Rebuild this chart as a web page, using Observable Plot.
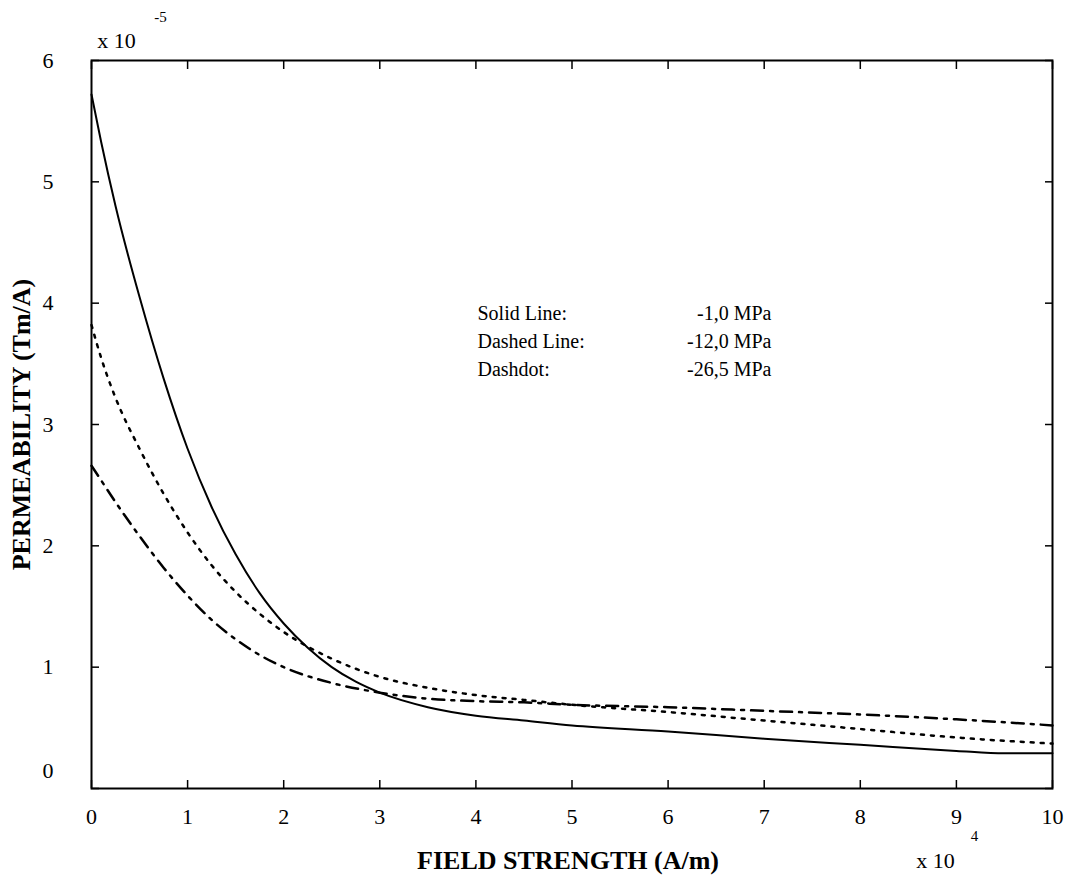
<!DOCTYPE html>
<html><head><meta charset="utf-8">
<script src="https://cdn.jsdelivr.net/npm/d3@7"></script>
<script src="https://cdn.jsdelivr.net/npm/@observablehq/plot@0.6"></script>
<style>body{margin:0;background:#fff} svg{display:block}</style>
</head><body><div id="chart"></div>
<script>
// Field strength in units of 10^4 A/m; permeability in units of 10^-5 Tm/A
const solidX   = [0, 0.1, 0.25, 0.5, 0.75, 1, 1.25, 1.5, 1.75, 2, 2.25, 2.5, 2.75, 3, 3.5, 4, 4.5, 5, 6, 7, 8, 9, 9.5, 10];
const solidY   = [5.72, 5.33, 4.80, 4.05, 3.38, 2.80, 2.32, 1.93, 1.61, 1.36, 1.16, 1.00, 0.88, 0.79, 0.67, 0.60, 0.56, 0.52, 0.47, 0.41, 0.36, 0.31, 0.29, 0.29];
const dottedX  = [0, 0.1, 0.25, 0.5, 0.75, 1, 1.25, 1.5, 1.75, 2, 2.5, 3, 3.5, 4, 4.5, 5, 6, 7, 8, 9, 10];
const dottedY  = [3.82, 3.55, 3.22, 2.80, 2.43, 2.11, 1.84, 1.62, 1.44, 1.29, 1.07, 0.92, 0.83, 0.77, 0.73, 0.69, 0.63, 0.56, 0.49, 0.42, 0.37];
const dashdotX = [0, 0.1, 0.25, 0.5, 0.75, 1, 1.25, 1.5, 1.75, 2, 2.5, 3, 3.5, 4, 4.5, 5, 6, 7, 8, 9, 10];
const dashdotY = [2.66, 2.54, 2.36, 2.08, 1.82, 1.59, 1.39, 1.23, 1.10, 1.00, 0.87, 0.79, 0.74, 0.72, 0.71, 0.69, 0.67, 0.64, 0.61, 0.57, 0.52];

const xTicks = [0, 1, 2, 3, 4, 5, 6, 7, 8, 9, 10];
const yTicks = [1, 2, 3, 4, 5, 6];
const yZeroTick = [0];
const legendLabels = ["Solid Line:", "Dashed Line:", "Dashdot:"];
const legendValues = ["-1,0 MPa", "-12,0 MPa", "-26,5 MPa"];
const xLabel = "FIELD STRENGTH (A/m)";
const yLabel = "PERMEABILITY (Tm/A)";
const xExpBase = "x 10", xExp = "4";
const yExpBase = "x 10", yExp = "-5";

const series = (xs, ys) => xs.map((x, i) => ({x, y: ys[i]}));
const serif = "'Liberation Serif', 'Times New Roman', serif";
const mid = {textAnchor: "middle", lineAnchor: "middle"};

const chart = Plot.plot({
  width: 1065,
  height: 876,
  marginLeft: 91,
  marginRight: 13,
  marginTop: 60,
  marginBottom: 88,
  style: {fontFamily: serif, fontSize: "22px", color: "black", background: "white"},
  x: {domain: [0, 10]},
  y: {domain: [0, 6]},
  marks: [
    Plot.line(series(solidX, solidY), {x: "x", y: "y", stroke: "black", strokeWidth: 2, curve: "monotone-x"}),
    Plot.line(series(dottedX, dottedY), {x: "x", y: "y", stroke: "black", strokeWidth: 2.5, strokeDasharray: "3,7", curve: "monotone-x"}),
    Plot.line(series(dashdotX, dashdotY), {x: "x", y: "y", stroke: "black", strokeWidth: 2.5, strokeDasharray: "12,7,3,7", curve: "monotone-x"}),
    Plot.frame({stroke: "black", strokeWidth: 2}),
    // inward ticks on all four sides
    Plot.axisX(xTicks, {anchor: "bottom", tickSize: -8, tickFormat: () => "", label: null, strokeWidth: 1.5}),
    Plot.axisX(xTicks, {anchor: "top", tickSize: -8, tickFormat: () => "", label: null, strokeWidth: 1.5}),
    Plot.axisY([0, ...yTicks], {anchor: "left", tickSize: -8, tickFormat: () => "", label: null, strokeWidth: 1.5}),
    Plot.axisY([0, ...yTicks], {anchor: "right", tickSize: -8, tickFormat: () => "", label: null, strokeWidth: 1.5}),
    // tick labels
    Plot.axisX(xTicks, {anchor: "bottom", tickSize: 0, tickPadding: 20, tickFormat: "d", label: null, fontSize: 22}),
    Plot.axisY(yTicks, {anchor: "left", tickSize: 0, tickPadding: 38, tickFormat: "d", label: null, fontSize: 22}),
    Plot.axisY(yZeroTick, {anchor: "left", tickSize: 0, tickPadding: 38, tickFormat: "d", label: null, fontSize: 22, dy: -18}),
    // axis titles
    Plot.text([xLabel], {frameAnchor: "bottom", ...mid, dx: -4, dy: 72, fontWeight: "bold", fontSize: 26}),
    Plot.text([yLabel], {frameAnchor: "left", ...mid, rotate: -90, dx: -70, dy: 0, fontWeight: "bold", fontSize: 26}),
    // exponents
    Plot.text([xExpBase], {frameAnchor: "bottom-right", ...mid, dx: -117, dy: 72, fontSize: 22}),
    Plot.text([xExp], {frameAnchor: "bottom-right", ...mid, dx: -78, dy: 48, fontSize: 15}),
    Plot.text([yExpBase], {frameAnchor: "top-left", ...mid, dx: 25, dy: -20, fontSize: 22}),
    Plot.text([yExp], {frameAnchor: "top-left", ...mid, dx: 69, dy: -43, fontSize: 15}),
    // annotation legend
    Plot.text([legendLabels.join("\n")], {frameAnchor: "top-left", textAnchor: "start", lineAnchor: "top", lineHeight: 1.4, dx: 386, dy: 240, fontSize: 20}),
    Plot.text([legendValues.join("\n")], {frameAnchor: "top-left", textAnchor: "end", lineAnchor: "top", lineHeight: 1.4, dx: 680, dy: 240, fontSize: 20})
  ]
});
document.getElementById("chart").appendChild(chart);
</script>
</body></html>
